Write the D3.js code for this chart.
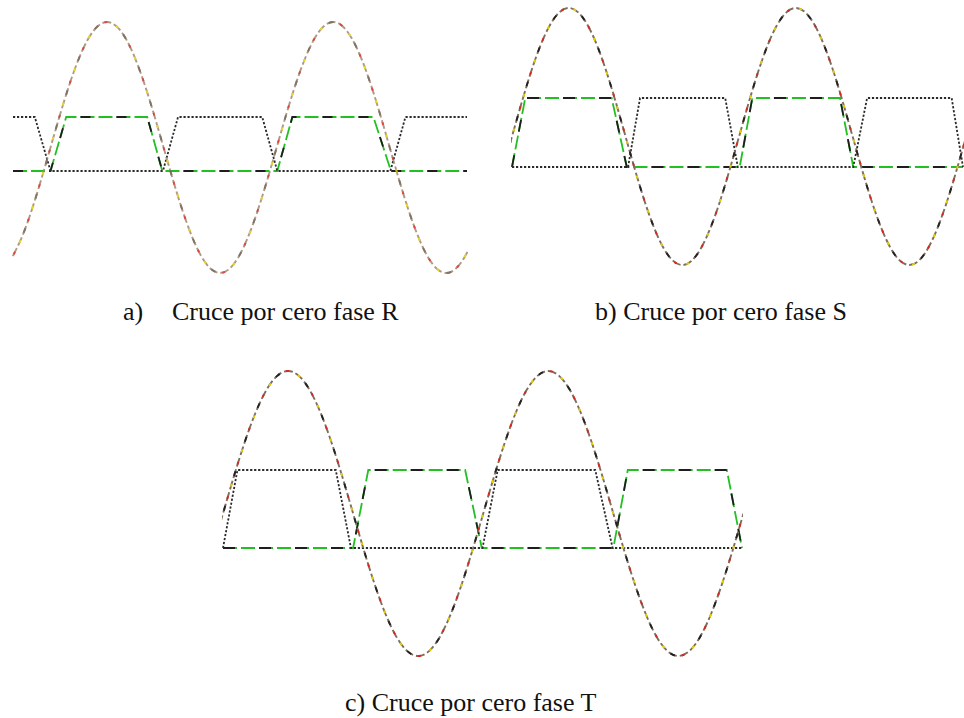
<!DOCTYPE html>
<html>
<head>
<meta charset="utf-8">
<script src="https://cdn.jsdelivr.net/npm/d3@7"></script>
<style>
  body { margin: 0; background: #fff; }
  svg { display: block; }
  .caption { font-family: "Liberation Serif", "Times New Roman", "DejaVu Serif", serif; font-size: 26px; fill: #111; }
</style>
</head>
<body>
<svg id="chart" width="964" height="718"></svg>
<script>
// ---- Line voltage reference waveform (per-unit), sampled every 15 electrical degrees ----
const waveAngle = [-60, -45, -30, -15,
  0, 15, 30, 45, 60, 75, 90, 105, 120, 135, 150, 165,
  180, 195, 210, 225, 240, 255, 270, 285, 300, 315, 330, 345,
  360, 375, 390, 405, 420, 435, 450, 465, 480, 495, 510, 525,
  540, 555, 570, 585, 600, 615, 630, 645, 660, 675, 690, 705, 720];
const waveValue = [-0.866, -0.707, -0.5, -0.259,
  0, 0.259, 0.5, 0.707, 0.866, 0.966, 1, 0.966, 0.866, 0.707, 0.5, 0.259,
  0, -0.259, -0.5, -0.707, -0.866, -0.966, -1, -0.966, -0.866, -0.707, -0.5, -0.259,
  0, 0.259, 0.5, 0.707, 0.866, 0.966, 1, 0.966, 0.866, 0.707, 0.5, 0.259,
  0, -0.259, -0.5, -0.707, -0.866, -0.966, -1, -0.966, -0.866, -0.707, -0.5, -0.259, 0];

// ---- Captured window of each phase (electrical degrees) ----
const windowR = [-59.7, 663];
const windowS = [0, 715];
const windowT = [0, 718];

// ---- Zero-crossing detector outputs (0 = low, 1 = high) ----
// Phase R
const pulseAngleR = [-59.7, 0, 25, 154, 178, 361, 385, 514, 542, 663];
const pulseLevelR = [0, 0, 1, 1, 0, 0, 1, 1, 0, 0];
const auxAngleR = [-59.7, -25, 0, 179, 203, 337, 361, 541, 565, 663];
const auxLevelR = [1, 1, 0, 0, 1, 1, 0, 0, 1, 1];
// Phase S
const pulseAngleS = [0, 21, 158, 182, 361, 381, 520, 541, 715];
const pulseLevelS = [0, 1, 1, 0, 0, 1, 1, 0, 0];
const auxAngleS = [0, 184, 203, 338, 358, 541, 563, 697, 715];
const auxLevelS = [0, 0, 1, 1, 0, 0, 1, 1, 0];
// Phase T
const pulseAngleT = [0, 180, 201, 335, 358, 540, 560, 697, 718];
const pulseLevelT = [0, 0, 1, 1, 0, 0, 1, 1, 0];
const auxAngleT = [0, 20, 156, 177, 359, 380, 515, 539, 718];
const auxLevelT = [0, 1, 1, 0, 0, 1, 1, 0, 0];

// ---- Captions ----
const captionTags = ["a)", "b)", "c)"];
const captionTexts = ["Cruce por cero fase R", "Cruce por cero fase S", "Cruce por cero fase T"];

// ---- Build the panel records from the arrays above ----
const zipPts = (a, v) => a.map((d, i) => ({ a: d, v: v[i] }));
const wave = zipPts(waveAngle, waveValue);
const panels = [
  { win: windowR, pulse: zipPts(pulseAngleR, pulseLevelR), aux: zipPts(auxAngleR, auxLevelR) },
  { win: windowS, pulse: zipPts(pulseAngleS, pulseLevelS), aux: zipPts(auxAngleS, auxLevelS) },
  { win: windowT, pulse: zipPts(pulseAngleT, pulseLevelT), aux: zipPts(auxAngleT, auxLevelT) }
];

// ---- Placement of each plot on the page ----
const frames = [
  { x: [13, 467],  pulseY: [171, 117], waveY: [273, 22],  soft: true },
  { x: [512, 963], pulseY: [167, 98],  waveY: [265, 8],   soft: false },
  { x: [223, 742], pulseY: [548, 470], waveY: [656, 371], soft: false }
];
const captionPos = [
  { tagX: 123, textX: 172, y: 320 },
  { tagX: 595, textX: null, y: 320 },
  { tagX: 345, textX: null, y: 711 }
];

const svg = d3.select("#chart");
const defs = svg.append("defs");

panels.forEach((p, i) => {
  const f = frames[i];
  const x = d3.scaleLinear().domain(p.win).range(f.x);
  const yPulse = d3.scaleLinear().domain([0, 1]).range(f.pulseY);
  const yWave = d3.scaleLinear().domain([-1, 1]).range(f.waveY);

  defs.append("clipPath").attr("id", "clip" + i)
    .append("rect")
    .attr("x", f.x[0] - 1).attr("y", 0)
    .attr("width", f.x[1] - f.x[0] + 2).attr("height", 718);

  const g = svg.append("g").attr("clip-path", `url(#clip${i})`);

  const pulseLine = d3.line().x(d => x(d.a)).y(d => yPulse(d.v));
  const waveLine = d3.line().x(d => x(d.a)).y(d => yWave(d.v)).curve(d3.curveNatural);

  // detector output: green long dashes with black dashes interleaved
  g.append("path").datum(p.pulse).attr("d", pulseLine)
    .attr("fill", "none").attr("stroke", "#22c022").attr("stroke-width", 1.8)
    .attr("stroke-dasharray", "14 4");
  g.append("path").datum(p.pulse).attr("d", pulseLine)
    .attr("fill", "none").attr("stroke", "#1e1e1e").attr("stroke-width", 1.8)
    .attr("stroke-dasharray", f.soft ? "10 26" : "12 24");

  // complementary output: dotted
  g.append("path").datum(p.aux).attr("d", pulseLine)
    .attr("fill", "none").attr("stroke", "#2a2a2a").attr("stroke-width", 1.8)
    .attr("stroke-dasharray", "2.2 1.8");

  // line voltage: multi-coloured dashed trace
  const wg = g.append("g").attr("opacity", f.soft ? 0.85 : 1);
  const layers = [
    { c: f.soft ? "#a08870" : "#7d6d5e", dash: "9 3" },
    { c: "#d8281c", dash: "0 2 3 31" },
    { c: "#e6d000", dash: "0 15 3 18" },
    { c: f.soft ? "#6a5a4a" : "#222", dash: "0 26 5 5" }
  ];
  layers.forEach(l => {
    wg.append("path").datum(wave).attr("d", waveLine)
      .attr("fill", "none").attr("stroke", l.c).attr("stroke-width", 1.9)
      .attr("stroke-dasharray", l.dash);
  });

  // caption
  const c = captionPos[i];
  const t = svg.append("g");
  if (c.textX !== null) {
    t.append("text").attr("class", "caption").attr("x", c.tagX).attr("y", c.y).text(captionTags[i]);
    t.append("text").attr("class", "caption").attr("x", c.textX).attr("y", c.y).text(captionTexts[i]);
  } else {
    t.append("text").attr("class", "caption").attr("x", c.tagX).attr("y", c.y).text(captionTags[i] + " " + captionTexts[i]);
  }
});
</script>
</body>
</html>
